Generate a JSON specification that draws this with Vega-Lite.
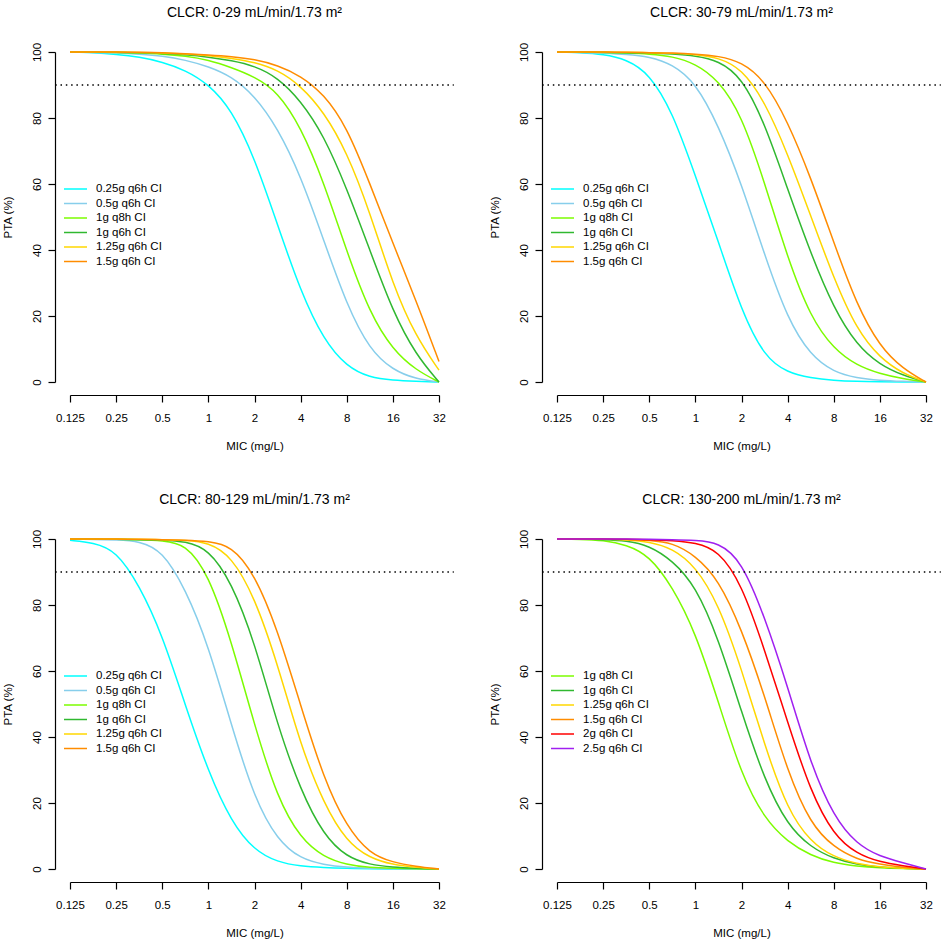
{
"$schema":"https://vega.github.io/schema/vega-lite/v6.json",
"padding":{"left":2,"top":6,"right":0,"bottom":0},
"config":{
 "font":"Liberation Sans",
 "view":{"stroke":null},
 "axis":{"grid":false,"domainColor":"black","tickColor":"black","labelColor":"black","titleColor":"black","labelFontSize":11.5,"titleFontSize":11.5,"titleFontWeight":"normal","tickSize":7,"domainWidth":1.2,"tickWidth":1.2,"labelOverlap":false,"labelFlush":false},
 "legend":{"orient":"none","legendX":-0.5,"legendY":131,"padding":0,"symbolType":"M-2.3,0L2.3,0","symbolSize":100,"symbolStrokeWidth":1.6,"labelFontSize":11.5,"labelColor":"black","labelOffset":14.5,"rowPadding":2.5,"title":null},
 "title":{"fontSize":14,"fontWeight":"normal","color":"black","anchor":"middle","offset":22},
 "line":{"strokeWidth":1.5,"interpolate":"basis"}
},
"datasets":{
"p1":[
{"s":"0.25g q6h CI","m":0.125,"p":100},{"s":"0.25g q6h CI","m":0.177,"p":99.8},{"s":"0.25g q6h CI","m":0.25,"p":99.3},{"s":"0.25g q6h CI","m":0.354,"p":98.5},{"s":"0.25g q6h CI","m":0.5,"p":97.0},{"s":"0.25g q6h CI","m":0.707,"p":94.5},{"s":"0.25g q6h CI","m":1,"p":90.3},{"s":"0.25g q6h CI","m":1.414,"p":82.6},{"s":"0.25g q6h CI","m":2,"p":68.0},{"s":"0.25g q6h CI","m":2.828,"p":47.6},{"s":"0.25g q6h CI","m":4,"p":27.4},{"s":"0.25g q6h CI","m":5.657,"p":12.7},{"s":"0.25g q6h CI","m":8,"p":4.6},{"s":"0.25g q6h CI","m":11.31,"p":1.3},{"s":"0.25g q6h CI","m":16,"p":0.5},{"s":"0.25g q6h CI","m":22.63,"p":0.2},{"s":"0.25g q6h CI","m":32,"p":0},
{"s":"0.5g q6h CI","m":0.125,"p":100},{"s":"0.5g q6h CI","m":0.177,"p":99.9},{"s":"0.5g q6h CI","m":0.25,"p":99.7},{"s":"0.5g q6h CI","m":0.354,"p":99.3},{"s":"0.5g q6h CI","m":0.5,"p":98.8},{"s":"0.5g q6h CI","m":0.707,"p":97.6},{"s":"0.5g q6h CI","m":1,"p":95.6},{"s":"0.5g q6h CI","m":1.414,"p":92.6},{"s":"0.5g q6h CI","m":2,"p":86.8},{"s":"0.5g q6h CI","m":2.828,"p":77.0},{"s":"0.5g q6h CI","m":4,"p":62.5},{"s":"0.5g q6h CI","m":5.657,"p":43.0},{"s":"0.5g q6h CI","m":8,"p":23.3},{"s":"0.5g q6h CI","m":11.31,"p":9.7},{"s":"0.5g q6h CI","m":16,"p":3.6},{"s":"0.5g q6h CI","m":22.63,"p":0.9},{"s":"0.5g q6h CI","m":32,"p":0},
{"s":"1g q8h CI","m":0.125,"p":100},{"s":"1g q8h CI","m":0.177,"p":100},{"s":"1g q8h CI","m":0.25,"p":99.9},{"s":"1g q8h CI","m":0.354,"p":99.7},{"s":"1g q8h CI","m":0.5,"p":99.4},{"s":"1g q8h CI","m":0.707,"p":98.8},{"s":"1g q8h CI","m":1,"p":97.6},{"s":"1g q8h CI","m":1.414,"p":95.3},{"s":"1g q8h CI","m":2,"p":92.5},{"s":"1g q8h CI","m":2.828,"p":88.0},{"s":"1g q8h CI","m":4,"p":77.4},{"s":"1g q8h CI","m":5.657,"p":60.7},{"s":"1g q8h CI","m":8,"p":39.5},{"s":"1g q8h CI","m":11.31,"p":20.8},{"s":"1g q8h CI","m":16,"p":9.7},{"s":"1g q8h CI","m":22.63,"p":3.6},{"s":"1g q8h CI","m":32,"p":0},
{"s":"1g q6h CI","m":0.125,"p":100},{"s":"1g q6h CI","m":0.177,"p":100},{"s":"1g q6h CI","m":0.25,"p":99.9},{"s":"1g q6h CI","m":0.354,"p":99.8},{"s":"1g q6h CI","m":0.5,"p":99.6},{"s":"1g q6h CI","m":0.707,"p":99.2},{"s":"1g q6h CI","m":1,"p":98.5},{"s":"1g q6h CI","m":1.414,"p":97.4},{"s":"1g q6h CI","m":2,"p":95.8},{"s":"1g q6h CI","m":2.828,"p":92.3},{"s":"1g q6h CI","m":4,"p":85.3},{"s":"1g q6h CI","m":5.657,"p":74.8},{"s":"1g q6h CI","m":8,"p":58.7},{"s":"1g q6h CI","m":11.31,"p":40.0},{"s":"1g q6h CI","m":16,"p":21.3},{"s":"1g q6h CI","m":22.63,"p":8.2},{"s":"1g q6h CI","m":32,"p":0},
{"s":"1.25g q6h CI","m":0.125,"p":100},{"s":"1.25g q6h CI","m":0.177,"p":100},{"s":"1.25g q6h CI","m":0.25,"p":100},{"s":"1.25g q6h CI","m":0.354,"p":99.9},{"s":"1.25g q6h CI","m":0.5,"p":99.7},{"s":"1.25g q6h CI","m":0.707,"p":99.4},{"s":"1.25g q6h CI","m":1,"p":98.9},{"s":"1.25g q6h CI","m":1.414,"p":98.1},{"s":"1.25g q6h CI","m":2,"p":96.9},{"s":"1.25g q6h CI","m":2.828,"p":94.6},{"s":"1.25g q6h CI","m":4,"p":89.8},{"s":"1.25g q6h CI","m":5.657,"p":81.9},{"s":"1.25g q6h CI","m":8,"p":69.8},{"s":"1.25g q6h CI","m":11.31,"p":51.6},{"s":"1.25g q6h CI","m":16,"p":29.4},{"s":"1.25g q6h CI","m":22.63,"p":13.7},{"s":"1.25g q6h CI","m":32,"p":3.6},
{"s":"1.5g q6h CI","m":0.125,"p":100},{"s":"1.5g q6h CI","m":0.177,"p":100},{"s":"1.5g q6h CI","m":0.25,"p":100},{"s":"1.5g q6h CI","m":0.354,"p":99.9},{"s":"1.5g q6h CI","m":0.5,"p":99.8},{"s":"1.5g q6h CI","m":0.707,"p":99.5},{"s":"1.5g q6h CI","m":1,"p":99.1},{"s":"1.5g q6h CI","m":1.414,"p":98.6},{"s":"1.5g q6h CI","m":2,"p":97.8},{"s":"1.5g q6h CI","m":2.828,"p":96.0},{"s":"1.5g q6h CI","m":4,"p":92.8},{"s":"1.5g q6h CI","m":5.657,"p":87.3},{"s":"1.5g q6h CI","m":8,"p":77.4},{"s":"1.5g q6h CI","m":11.31,"p":60.2},{"s":"1.5g q6h CI","m":16,"p":42.0},{"s":"1.5g q6h CI","m":22.63,"p":24.8},{"s":"1.5g q6h CI","m":32,"p":6.2}
],
"p2":[
{"s":"0.25g q6h CI","m":0.125,"p":100},{"s":"0.25g q6h CI","m":0.177,"p":99.8},{"s":"0.25g q6h CI","m":0.25,"p":99.3},{"s":"0.25g q6h CI","m":0.354,"p":97.8},{"s":"0.25g q6h CI","m":0.5,"p":93.5},{"s":"0.25g q6h CI","m":0.707,"p":82.0},{"s":"0.25g q6h CI","m":1,"p":62.5},{"s":"0.25g q6h CI","m":1.414,"p":42.5},{"s":"0.25g q6h CI","m":2,"p":21.5},{"s":"0.25g q6h CI","m":2.828,"p":7.5},{"s":"0.25g q6h CI","m":4,"p":2.8},{"s":"0.25g q6h CI","m":5.657,"p":1.2},{"s":"0.25g q6h CI","m":8,"p":0.5},{"s":"0.25g q6h CI","m":11.31,"p":0.2},{"s":"0.25g q6h CI","m":16,"p":0.1},{"s":"0.25g q6h CI","m":22.63,"p":0},{"s":"0.25g q6h CI","m":32,"p":0},
{"s":"0.5g q6h CI","m":0.125,"p":100},{"s":"0.5g q6h CI","m":0.177,"p":99.9},{"s":"0.5g q6h CI","m":0.25,"p":99.6},{"s":"0.5g q6h CI","m":0.354,"p":99.3},{"s":"0.5g q6h CI","m":0.5,"p":98.6},{"s":"0.5g q6h CI","m":0.707,"p":96.3},{"s":"0.5g q6h CI","m":1,"p":90.8},{"s":"0.5g q6h CI","m":1.414,"p":77.8},{"s":"0.5g q6h CI","m":2,"p":60.0},{"s":"0.5g q6h CI","m":2.828,"p":38.5},{"s":"0.5g q6h CI","m":4,"p":19.0},{"s":"0.5g q6h CI","m":5.657,"p":8.0},{"s":"0.5g q6h CI","m":8,"p":3.0},{"s":"0.5g q6h CI","m":11.31,"p":1.2},{"s":"0.5g q6h CI","m":16,"p":0.5},{"s":"0.5g q6h CI","m":22.63,"p":0.2},{"s":"0.5g q6h CI","m":32,"p":0},
{"s":"1g q8h CI","m":0.125,"p":100},{"s":"1g q8h CI","m":0.177,"p":100},{"s":"1g q8h CI","m":0.25,"p":99.9},{"s":"1g q8h CI","m":0.354,"p":99.7},{"s":"1g q8h CI","m":0.5,"p":99.4},{"s":"1g q8h CI","m":0.707,"p":98.7},{"s":"1g q8h CI","m":1,"p":96.5},{"s":"1g q8h CI","m":1.414,"p":91.5},{"s":"1g q8h CI","m":2,"p":81.0},{"s":"1g q8h CI","m":2.828,"p":60.5},{"s":"1g q8h CI","m":4,"p":37.5},{"s":"1g q8h CI","m":5.657,"p":19.5},{"s":"1g q8h CI","m":8,"p":10.0},{"s":"1g q8h CI","m":11.31,"p":5.0},{"s":"1g q8h CI","m":16,"p":2.5},{"s":"1g q8h CI","m":22.63,"p":1.0},{"s":"1g q8h CI","m":32,"p":0},
{"s":"1g q6h CI","m":0.125,"p":100},{"s":"1g q6h CI","m":0.177,"p":100},{"s":"1g q6h CI","m":0.25,"p":99.9},{"s":"1g q6h CI","m":0.354,"p":99.8},{"s":"1g q6h CI","m":0.5,"p":99.7},{"s":"1g q6h CI","m":0.707,"p":99.4},{"s":"1g q6h CI","m":1,"p":98.9},{"s":"1g q6h CI","m":1.414,"p":97.4},{"s":"1g q6h CI","m":2,"p":92.5},{"s":"1g q6h CI","m":2.828,"p":78.6},{"s":"1g q6h CI","m":4,"p":58.4},{"s":"1g q6h CI","m":5.657,"p":39.0},{"s":"1g q6h CI","m":8,"p":22.3},{"s":"1g q6h CI","m":11.31,"p":11.2},{"s":"1g q6h CI","m":16,"p":5.2},{"s":"1g q6h CI","m":22.63,"p":2.0},{"s":"1g q6h CI","m":32,"p":0},
{"s":"1.25g q6h CI","m":0.125,"p":100},{"s":"1.25g q6h CI","m":0.177,"p":100},{"s":"1.25g q6h CI","m":0.25,"p":100},{"s":"1.25g q6h CI","m":0.354,"p":99.9},{"s":"1.25g q6h CI","m":0.5,"p":99.8},{"s":"1.25g q6h CI","m":0.707,"p":99.6},{"s":"1.25g q6h CI","m":1,"p":99.3},{"s":"1.25g q6h CI","m":1.414,"p":98.3},{"s":"1.25g q6h CI","m":2,"p":95.0},{"s":"1.25g q6h CI","m":2.828,"p":85.2},{"s":"1.25g q6h CI","m":4,"p":69.2},{"s":"1.25g q6h CI","m":5.657,"p":50.4},{"s":"1.25g q6h CI","m":8,"p":31.4},{"s":"1.25g q6h CI","m":11.31,"p":15.8},{"s":"1.25g q6h CI","m":16,"p":7.3},{"s":"1.25g q6h CI","m":22.63,"p":2.5},{"s":"1.25g q6h CI","m":32,"p":0},
{"s":"1.5g q6h CI","m":0.125,"p":100},{"s":"1.5g q6h CI","m":0.177,"p":100},{"s":"1.5g q6h CI","m":0.25,"p":100},{"s":"1.5g q6h CI","m":0.354,"p":99.9},{"s":"1.5g q6h CI","m":0.5,"p":99.8},{"s":"1.5g q6h CI","m":0.707,"p":99.7},{"s":"1.5g q6h CI","m":1,"p":99.4},{"s":"1.5g q6h CI","m":1.414,"p":98.8},{"s":"1.5g q6h CI","m":2,"p":97.0},{"s":"1.5g q6h CI","m":2.828,"p":91.5},{"s":"1.5g q6h CI","m":4,"p":79.0},{"s":"1.5g q6h CI","m":5.657,"p":62.0},{"s":"1.5g q6h CI","m":8,"p":42.3},{"s":"1.5g q6h CI","m":11.31,"p":23.3},{"s":"1.5g q6h CI","m":16,"p":10.7},{"s":"1.5g q6h CI","m":22.63,"p":4.0},{"s":"1.5g q6h CI","m":32,"p":0}
],
"p3":[
{"s":"0.25g q6h CI","m":0.125,"p":99.6},{"s":"0.25g q6h CI","m":0.177,"p":98.9},{"s":"0.25g q6h CI","m":0.25,"p":96.5},{"s":"0.25g q6h CI","m":0.354,"p":86.0},{"s":"0.25g q6h CI","m":0.5,"p":71.0},{"s":"0.25g q6h CI","m":0.707,"p":49.6},{"s":"0.25g q6h CI","m":1,"p":29.4},{"s":"0.25g q6h CI","m":1.414,"p":14.2},{"s":"0.25g q6h CI","m":2,"p":5.6},{"s":"0.25g q6h CI","m":2.828,"p":2.1},{"s":"0.25g q6h CI","m":4,"p":0.8},{"s":"0.25g q6h CI","m":5.657,"p":0.4},{"s":"0.25g q6h CI","m":8,"p":0.2},{"s":"0.25g q6h CI","m":11.31,"p":0.1},{"s":"0.25g q6h CI","m":16,"p":0},{"s":"0.25g q6h CI","m":22.63,"p":0},{"s":"0.25g q6h CI","m":32,"p":0},
{"s":"0.5g q6h CI","m":0.125,"p":100},{"s":"0.5g q6h CI","m":0.177,"p":99.9},{"s":"0.5g q6h CI","m":0.25,"p":99.7},{"s":"0.5g q6h CI","m":0.354,"p":99.4},{"s":"0.5g q6h CI","m":0.5,"p":96.5},{"s":"0.5g q6h CI","m":0.707,"p":85.0},{"s":"0.5g q6h CI","m":1,"p":67.8},{"s":"0.5g q6h CI","m":1.414,"p":43.5},{"s":"0.5g q6h CI","m":2,"p":21.3},{"s":"0.5g q6h CI","m":2.828,"p":8.7},{"s":"0.5g q6h CI","m":4,"p":3.1},{"s":"0.5g q6h CI","m":5.657,"p":1.3},{"s":"0.5g q6h CI","m":8,"p":0.5},{"s":"0.5g q6h CI","m":11.31,"p":0.2},{"s":"0.5g q6h CI","m":16,"p":0.1},{"s":"0.5g q6h CI","m":22.63,"p":0},{"s":"0.5g q6h CI","m":32,"p":0},
{"s":"1g q8h CI","m":0.125,"p":100},{"s":"1g q8h CI","m":0.177,"p":100},{"s":"1g q8h CI","m":0.25,"p":99.9},{"s":"1g q8h CI","m":0.354,"p":99.8},{"s":"1g q8h CI","m":0.5,"p":99.5},{"s":"1g q8h CI","m":0.707,"p":98.6},{"s":"1g q8h CI","m":1,"p":89.5},{"s":"1g q8h CI","m":1.414,"p":69.0},{"s":"1g q8h CI","m":2,"p":43.5},{"s":"1g q8h CI","m":2.828,"p":21.3},{"s":"1g q8h CI","m":4,"p":9.2},{"s":"1g q8h CI","m":5.657,"p":3.6},{"s":"1g q8h CI","m":8,"p":1.3},{"s":"1g q8h CI","m":11.31,"p":0.4},{"s":"1g q8h CI","m":16,"p":0.2},{"s":"1g q8h CI","m":22.63,"p":0.1},{"s":"1g q8h CI","m":32,"p":0},
{"s":"1g q6h CI","m":0.125,"p":100},{"s":"1g q6h CI","m":0.177,"p":100},{"s":"1g q6h CI","m":0.25,"p":99.9},{"s":"1g q6h CI","m":0.354,"p":99.8},{"s":"1g q6h CI","m":0.5,"p":99.7},{"s":"1g q6h CI","m":0.707,"p":99.3},{"s":"1g q6h CI","m":1,"p":97.0},{"s":"1g q6h CI","m":1.414,"p":87.0},{"s":"1g q6h CI","m":2,"p":68.8},{"s":"1g q6h CI","m":2.828,"p":43.5},{"s":"1g q6h CI","m":4,"p":23.8},{"s":"1g q6h CI","m":5.657,"p":10.2},{"s":"1g q6h CI","m":8,"p":3.6},{"s":"1g q6h CI","m":11.31,"p":1.3},{"s":"1g q6h CI","m":16,"p":0.5},{"s":"1g q6h CI","m":22.63,"p":0.2},{"s":"1g q6h CI","m":32,"p":0},
{"s":"1.25g q6h CI","m":0.125,"p":100},{"s":"1.25g q6h CI","m":0.177,"p":100},{"s":"1.25g q6h CI","m":0.25,"p":100},{"s":"1.25g q6h CI","m":0.354,"p":99.9},{"s":"1.25g q6h CI","m":0.5,"p":99.8},{"s":"1.25g q6h CI","m":0.707,"p":99.6},{"s":"1.25g q6h CI","m":1,"p":99.0},{"s":"1.25g q6h CI","m":1.414,"p":94.8},{"s":"1.25g q6h CI","m":2,"p":82.5},{"s":"1.25g q6h CI","m":2.828,"p":62.2},{"s":"1.25g q6h CI","m":4,"p":37.5},{"s":"1.25g q6h CI","m":5.657,"p":19.8},{"s":"1.25g q6h CI","m":8,"p":8.2},{"s":"1.25g q6h CI","m":11.31,"p":3.3},{"s":"1.25g q6h CI","m":16,"p":1.3},{"s":"1.25g q6h CI","m":22.63,"p":0.5},{"s":"1.25g q6h CI","m":32,"p":0},
{"s":"1.5g q6h CI","m":0.125,"p":100},{"s":"1.5g q6h CI","m":0.177,"p":100},{"s":"1.5g q6h CI","m":0.25,"p":100},{"s":"1.5g q6h CI","m":0.354,"p":99.9},{"s":"1.5g q6h CI","m":0.5,"p":99.8},{"s":"1.5g q6h CI","m":0.707,"p":99.7},{"s":"1.5g q6h CI","m":1,"p":99.3},{"s":"1.5g q6h CI","m":1.414,"p":98.0},{"s":"1.5g q6h CI","m":2,"p":89.5},{"s":"1.5g q6h CI","m":2.828,"p":72.5},{"s":"1.5g q6h CI","m":4,"p":49.6},{"s":"1.5g q6h CI","m":5.657,"p":27.4},{"s":"1.5g q6h CI","m":8,"p":12.7},{"s":"1.5g q6h CI","m":11.31,"p":4.6},{"s":"1.5g q6h CI","m":16,"p":2.0},{"s":"1.5g q6h CI","m":22.63,"p":0.8},{"s":"1.5g q6h CI","m":32,"p":0}
],
"p4":[
{"s":"1g q8h CI","m":0.125,"p":100},{"s":"1g q8h CI","m":0.177,"p":99.9},{"s":"1g q8h CI","m":0.25,"p":99.6},{"s":"1g q8h CI","m":0.354,"p":98.3},{"s":"1g q8h CI","m":0.5,"p":95.0},{"s":"1g q8h CI","m":0.707,"p":85.6},{"s":"1g q8h CI","m":1,"p":71.8},{"s":"1g q8h CI","m":1.414,"p":50.6},{"s":"1g q8h CI","m":2,"p":28.4},{"s":"1g q8h CI","m":2.828,"p":15.2},{"s":"1g q8h CI","m":4,"p":8.2},{"s":"1g q8h CI","m":5.657,"p":4.1},{"s":"1g q8h CI","m":8,"p":1.8},{"s":"1g q8h CI","m":11.31,"p":0.8},{"s":"1g q8h CI","m":16,"p":0.3},{"s":"1g q8h CI","m":22.63,"p":0.1},{"s":"1g q8h CI","m":32,"p":0},
{"s":"1g q6h CI","m":0.125,"p":100},{"s":"1g q6h CI","m":0.177,"p":100},{"s":"1g q6h CI","m":0.25,"p":99.8},{"s":"1g q6h CI","m":0.354,"p":99.5},{"s":"1g q6h CI","m":0.5,"p":98.0},{"s":"1g q6h CI","m":0.707,"p":93.5},{"s":"1g q6h CI","m":1,"p":85.9},{"s":"1g q6h CI","m":1.414,"p":69.8},{"s":"1g q6h CI","m":2,"p":47.6},{"s":"1g q6h CI","m":2.828,"p":26.9},{"s":"1g q6h CI","m":4,"p":13.2},{"s":"1g q6h CI","m":5.657,"p":6.6},{"s":"1g q6h CI","m":8,"p":3.1},{"s":"1g q6h CI","m":11.31,"p":1.4},{"s":"1g q6h CI","m":16,"p":0.5},{"s":"1g q6h CI","m":22.63,"p":0.2},{"s":"1g q6h CI","m":32,"p":0},
{"s":"1.25g q6h CI","m":0.125,"p":100},{"s":"1.25g q6h CI","m":0.177,"p":100},{"s":"1.25g q6h CI","m":0.25,"p":99.9},{"s":"1.25g q6h CI","m":0.354,"p":99.8},{"s":"1.25g q6h CI","m":0.5,"p":99.2},{"s":"1.25g q6h CI","m":0.707,"p":97.2},{"s":"1.25g q6h CI","m":1,"p":91.8},{"s":"1.25g q6h CI","m":1.414,"p":80.4},{"s":"1.25g q6h CI","m":2,"p":60.7},{"s":"1.25g q6h CI","m":2.828,"p":37.5},{"s":"1.25g q6h CI","m":4,"p":17.8},{"s":"1.25g q6h CI","m":5.657,"p":8.2},{"s":"1.25g q6h CI","m":8,"p":3.6},{"s":"1.25g q6h CI","m":11.31,"p":1.6},{"s":"1.25g q6h CI","m":16,"p":0.6},{"s":"1.25g q6h CI","m":22.63,"p":0.2},{"s":"1.25g q6h CI","m":32,"p":0},
{"s":"1.5g q6h CI","m":0.125,"p":100},{"s":"1.5g q6h CI","m":0.177,"p":100},{"s":"1.5g q6h CI","m":0.25,"p":100},{"s":"1.5g q6h CI","m":0.354,"p":99.9},{"s":"1.5g q6h CI","m":0.5,"p":99.6},{"s":"1.5g q6h CI","m":0.707,"p":98.9},{"s":"1.5g q6h CI","m":1,"p":95.0},{"s":"1.5g q6h CI","m":1.414,"p":87.8},{"s":"1.5g q6h CI","m":2,"p":72.8},{"s":"1.5g q6h CI","m":2.828,"p":52.6},{"s":"1.5g q6h CI","m":4,"p":29.4},{"s":"1.5g q6h CI","m":5.657,"p":13.5},{"s":"1.5g q6h CI","m":8,"p":6.6},{"s":"1.5g q6h CI","m":11.31,"p":2.9},{"s":"1.5g q6h CI","m":16,"p":1.4},{"s":"1.5g q6h CI","m":22.63,"p":0.5},{"s":"1.5g q6h CI","m":32,"p":0},
{"s":"2g q6h CI","m":0.125,"p":100},{"s":"2g q6h CI","m":0.177,"p":100},{"s":"2g q6h CI","m":0.25,"p":100},{"s":"2g q6h CI","m":0.354,"p":99.9},{"s":"2g q6h CI","m":0.5,"p":99.8},{"s":"2g q6h CI","m":0.707,"p":99.5},{"s":"2g q6h CI","m":1,"p":98.9},{"s":"2g q6h CI","m":1.414,"p":96.6},{"s":"2g q6h CI","m":2,"p":86.5},{"s":"2g q6h CI","m":2.828,"p":66.5},{"s":"2g q6h CI","m":4,"p":44.5},{"s":"2g q6h CI","m":5.657,"p":23.3},{"s":"2g q6h CI","m":8,"p":10.2},{"s":"2g q6h CI","m":11.31,"p":4.6},{"s":"2g q6h CI","m":16,"p":2.1},{"s":"2g q6h CI","m":22.63,"p":1.0},{"s":"2g q6h CI","m":32,"p":0},
{"s":"2.5g q6h CI","m":0.125,"p":100},{"s":"2.5g q6h CI","m":0.177,"p":100},{"s":"2.5g q6h CI","m":0.25,"p":100},{"s":"2.5g q6h CI","m":0.354,"p":100},{"s":"2.5g q6h CI","m":0.5,"p":99.9},{"s":"2.5g q6h CI","m":0.707,"p":99.8},{"s":"2.5g q6h CI","m":1,"p":99.6},{"s":"2.5g q6h CI","m":1.414,"p":99.0},{"s":"2.5g q6h CI","m":2,"p":93.5},{"s":"2.5g q6h CI","m":2.828,"p":76.5},{"s":"2.5g q6h CI","m":4,"p":55.3},{"s":"2.5g q6h CI","m":5.657,"p":31.8},{"s":"2.5g q6h CI","m":8,"p":15.8},{"s":"2.5g q6h CI","m":11.31,"p":7.5},{"s":"2.5g q6h CI","m":16,"p":3.8},{"s":"2.5g q6h CI","m":22.63,"p":1.9},{"s":"2.5g q6h CI","m":32,"p":0}
],
"target":[{"t":90}]
},
"columns":2,
"spacing":{"row":157,"column":118},
"bounds":"flush",
"resolve":{"scale":{"color":"independent","x":"independent","y":"independent"},"legend":{"color":"independent"}},
"concat":[
{"title":"CLCR: 0-29 mL/min/1.73 m²","width":369,"height":330,"layer":[
 {"data":{"name":"p1"},"mark":"line","encoding":{
  "x":{"field":"m","type":"quantitative","scale":{"type":"log","base":2,"domain":[0.125,32],"nice":false},"axis":{"values":[0.125,0.25,0.5,1,2,4,8,16,32],"labelExpr":"''+datum.value","title":"MIC (mg/L)","offset":13,"labelPadding":10,"titlePadding":17}},
  "y":{"field":"p","type":"quantitative","scale":{"domain":[0,100],"nice":false,"zero":false},"axis":{"values":[0,20,40,60,80,100],"title":"PTA (%)","offset":15,"labelAngle":-90,"labelAlign":"center","labelBaseline":"bottom","labelPadding":6,"titlePadding":18}},
  "color":{"field":"s","type":"nominal","scale":{"domain":["0.25g q6h CI","0.5g q6h CI","1g q8h CI","1g q6h CI","1.25g q6h CI","1.5g q6h CI"],"range":["#00FFFF","#87CEEB","#7CFC00","#30B830","#FFD700","#FF8C00"]}}}},
 {"data":{"name":"target"},"mark":{"type":"rule","color":"black","strokeWidth":1.3,"strokeDash":[1.5,3.8],"clip":false},"encoding":{"y":{"field":"t","type":"quantitative"},"x":{"datum":0.1001},"x2":{"datum":39.96}}}
]},
{"title":"CLCR: 30-79 mL/min/1.73 m²","width":369,"height":330,"layer":[
 {"data":{"name":"p2"},"mark":"line","encoding":{
  "x":{"field":"m","type":"quantitative","scale":{"type":"log","base":2,"domain":[0.125,32],"nice":false},"axis":{"values":[0.125,0.25,0.5,1,2,4,8,16,32],"labelExpr":"''+datum.value","title":"MIC (mg/L)","offset":13,"labelPadding":10,"titlePadding":17}},
  "y":{"field":"p","type":"quantitative","scale":{"domain":[0,100],"nice":false,"zero":false},"axis":{"values":[0,20,40,60,80,100],"title":"PTA (%)","offset":15,"labelAngle":-90,"labelAlign":"center","labelBaseline":"bottom","labelPadding":6,"titlePadding":18}},
  "color":{"field":"s","type":"nominal","scale":{"domain":["0.25g q6h CI","0.5g q6h CI","1g q8h CI","1g q6h CI","1.25g q6h CI","1.5g q6h CI"],"range":["#00FFFF","#87CEEB","#7CFC00","#30B830","#FFD700","#FF8C00"]}}}},
 {"data":{"name":"target"},"mark":{"type":"rule","color":"black","strokeWidth":1.3,"strokeDash":[1.5,3.8],"clip":false},"encoding":{"y":{"field":"t","type":"quantitative"},"x":{"datum":0.1001},"x2":{"datum":39.96}}}
]},
{"title":"CLCR: 80-129 mL/min/1.73 m²","width":369,"height":330,"layer":[
 {"data":{"name":"p3"},"mark":"line","encoding":{
  "x":{"field":"m","type":"quantitative","scale":{"type":"log","base":2,"domain":[0.125,32],"nice":false},"axis":{"values":[0.125,0.25,0.5,1,2,4,8,16,32],"labelExpr":"''+datum.value","title":"MIC (mg/L)","offset":13,"labelPadding":10,"titlePadding":17}},
  "y":{"field":"p","type":"quantitative","scale":{"domain":[0,100],"nice":false,"zero":false},"axis":{"values":[0,20,40,60,80,100],"title":"PTA (%)","offset":15,"labelAngle":-90,"labelAlign":"center","labelBaseline":"bottom","labelPadding":6,"titlePadding":18}},
  "color":{"field":"s","type":"nominal","scale":{"domain":["0.25g q6h CI","0.5g q6h CI","1g q8h CI","1g q6h CI","1.25g q6h CI","1.5g q6h CI"],"range":["#00FFFF","#87CEEB","#7CFC00","#30B830","#FFD700","#FF8C00"]}}}},
 {"data":{"name":"target"},"mark":{"type":"rule","color":"black","strokeWidth":1.3,"strokeDash":[1.5,3.8],"clip":false},"encoding":{"y":{"field":"t","type":"quantitative"},"x":{"datum":0.1001},"x2":{"datum":39.96}}}
]},
{"title":"CLCR: 130-200 mL/min/1.73 m²","width":369,"height":330,"layer":[
 {"data":{"name":"p4"},"mark":"line","encoding":{
  "x":{"field":"m","type":"quantitative","scale":{"type":"log","base":2,"domain":[0.125,32],"nice":false},"axis":{"values":[0.125,0.25,0.5,1,2,4,8,16,32],"labelExpr":"''+datum.value","title":"MIC (mg/L)","offset":13,"labelPadding":10,"titlePadding":17}},
  "y":{"field":"p","type":"quantitative","scale":{"domain":[0,100],"nice":false,"zero":false},"axis":{"values":[0,20,40,60,80,100],"title":"PTA (%)","offset":15,"labelAngle":-90,"labelAlign":"center","labelBaseline":"bottom","labelPadding":6,"titlePadding":18}},
  "color":{"field":"s","type":"nominal","scale":{"domain":["1g q8h CI","1g q6h CI","1.25g q6h CI","1.5g q6h CI","2g q6h CI","2.5g q6h CI"],"range":["#7CFC00","#30B830","#FFD700","#FF8C00","#FF0000","#A020F0"]}}}},
 {"data":{"name":"target"},"mark":{"type":"rule","color":"black","strokeWidth":1.3,"strokeDash":[1.5,3.8],"clip":false},"encoding":{"y":{"field":"t","type":"quantitative"},"x":{"datum":0.1001},"x2":{"datum":39.96}}}
]}
]
}
